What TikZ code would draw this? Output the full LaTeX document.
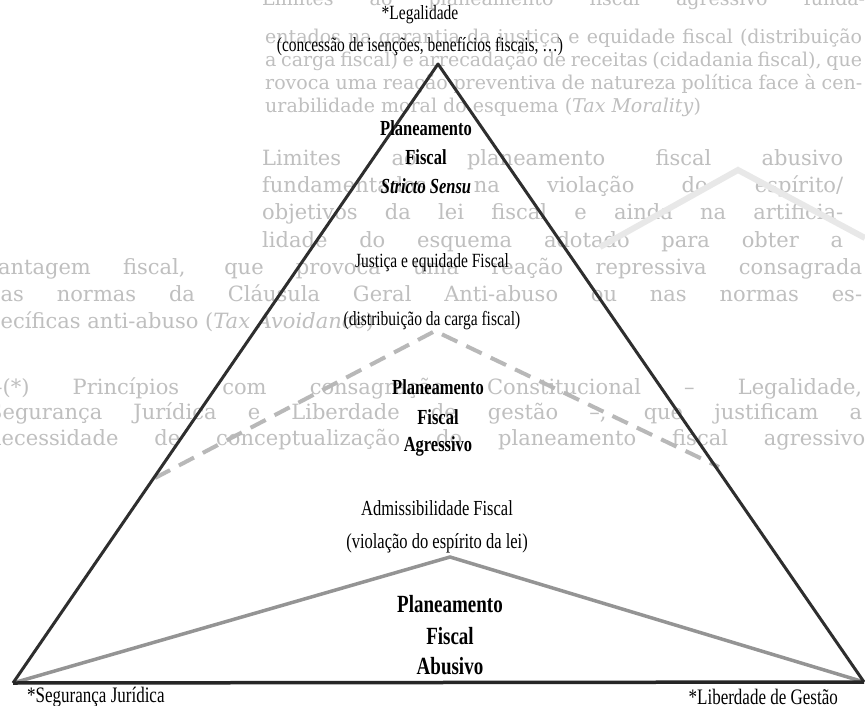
\documentclass[tikz,border=0pt]{standalone}
\usepackage{graphicx}
\usepackage{fontspec}
\setmainfont{Liberation Serif}
\newfontfamily\bgfont{DejaVu Serif}
\newcommand\tallt[1]{\scalebox{1}[1.3]{#1}}
\begin{document}
\begin{tikzpicture}[x=1pt,y=-1pt,
  lbl/.style={inner sep=0pt, font=\fontsize{15.5}{16}\selectfont},
  blbl/.style={inner sep=0pt, font=\fontsize{16.5}{17}\selectfont\bfseries},
  lblb/.style={inner sep=0pt, font=\fontsize{16.5}{17}\selectfont},
  blblb/.style={inner sep=0pt, font=\fontsize{19}{20}\selectfont\bfseries},
  cornerlbl/.style={inner sep=0pt, font=\fontsize{17}{18}\selectfont},
  bgtext/.style={inner sep=0pt, anchor=base west, text=black!25, font=\bgfont\fontsize{21}{21}\selectfont},
  bgsmall/.style={bgtext, font=\bgfont\fontsize{19}{19}\selectfont},
  mainline/.style={draw=black!82, line width=3pt, line join=round},
  dashline/.style={draw=black!28, line width=4pt, dash pattern=on 17pt off 10pt},
  innerline/.style={draw=black!42, line width=3.5pt},
  ghost/.style={draw=black!9, line width=6pt}]
\fill[white] (0,0) rectangle (865,706);
\useasboundingbox (0,0) rectangle (865,706);
% show-through text of the scanned page
\node[bgsmall] (g0) at (262,6) {\makebox[603pt][s]{Limites ao planeamento fiscal agressivo funda-}};
\node[bgsmall] (g1) at (265,44) {\makebox[597pt][s]{entados na garantia da justiça e equidade fiscal (distribuição}};
\node[bgsmall] (g2) at (265,67) {\makebox[597pt][s]{a carga fiscal) e arrecadação de receitas (cidadania fiscal), que}};
\node[bgsmall] (g3) at (265,90) {\makebox[597pt][s]{rovoca uma reação preventiva de natureza política face à cen-}};
\node[bgsmall] (g4) at (265,113) {urabilidade moral do esquema (\textit{Tax Morality})};
\node[bgtext] (g5) at (262,166) {\makebox[581pt][s]{Limites ao planeamento fiscal abusivo}};
\node[bgtext] (g6) at (262,193) {\makebox[581pt][s]{fundamentados na violação do espírito/}};
\node[bgtext] (g7) at (262,219) {\makebox[581pt][s]{objetivos da lei fiscal e ainda na artificia-}};
\node[bgtext] (g8) at (262,247) {\makebox[581pt][s]{lidade do esquema adotado para obter a}};
\node[bgtext] (g9) at (-14,274) {\makebox[876pt][s]{vantagem fiscal, que provoca uma reação repressiva consagrada}};
\node[bgtext] (g10) at (-13,301) {\makebox[875pt][s]{nas normas da Cláusula Geral Anti-abuso ou nas normas es-}};
\node[bgtext] (g11) at (-13,328) {pecíficas anti-abuso (\textit{Tax Avoidance})};
\node[bgtext] (g12) at (-8,394) {\makebox[870pt][s]{–(*) Princípios com consagração Constitucional – Legalidade,}};
\node[bgtext] (g13) at (-12,419) {\makebox[874pt][s]{Segurança Jurídica e Liberdade de gestão –, que justificam a}};
\node[bgtext] (g14) at (-12,445) {\makebox[877pt][s]{necessidade de conceptualização do planeamento fiscal agressivo}};
\coordinate (h1) at (600,247);
\coordinate (h2) at (738,170);
\coordinate (h3) at (865,238);
\draw[ghost] (h1) -- (h2) -- (h3);
% diagram
\coordinate (A) at (13,683);
\coordinate (B) at (864,682);
\coordinate (C) at (438,64);
\coordinate (DL) at (155,478);
\coordinate (DA) at (435,331);
\coordinate (DR) at (719,467);
\coordinate (G) at (450,557);
\draw[dashline] (DL) -- (DA) -- (DR);
\draw[innerline] (A) -- (G) -- (B);
\draw[mainline] (A) -- (C) -- (B);
\draw[draw=black!85, line width=3.5pt] (A) -- (B);
% labels
\node[lbl] (leg) at (420,15) {\tallt{*Legalidade}};
\node[lbl] (conc) at (420,47) {\tallt{(concessão de isenções, benefícios fiscais, …)}};
\node[blbl] (p1a) at (426,128) {\tallt{Planeamento}};
\node[blbl] (p1b) at (426,157) {\tallt{Fiscal}};
\node[blbl] (p1c) at (426,186) {\tallt{\textit{Stricto Sensu}}};
\node[lbl] (j1) at (432,263) {\tallt{Justiça e equidade Fiscal}};
\node[lbl] (j2) at (432,321) {\tallt{(distribuição da carga fiscal)}};
\node[blbl] (p2a) at (438,387) {\tallt{Planeamento}};
\node[blbl] (p2b) at (438,417) {\tallt{Fiscal}};
\node[blbl] (p2c) at (438,446) {\tallt{Agressivo}};
\node[lblb] (a1) at (437,508) {\tallt{Admissibilidade Fiscal}};
\node[lblb] (a2) at (437,543) {\tallt{(violação do espírito da lei)}};
\node[blblb] (p3a) at (450,604) {\tallt{Planeamento}};
\node[blblb] (p3b) at (450,636) {\tallt{Fiscal}};
\node[blblb] (p3c) at (450,666) {\tallt{Abusivo}};
\node[cornerlbl, anchor=west] (seg) at (27,697) {\tallt{*Segurança Jurídica}};
\node[cornerlbl, anchor=east] (lib) at (838,697) {\tallt{*Liberdade de Gestão}};
\end{tikzpicture}
\end{document}
